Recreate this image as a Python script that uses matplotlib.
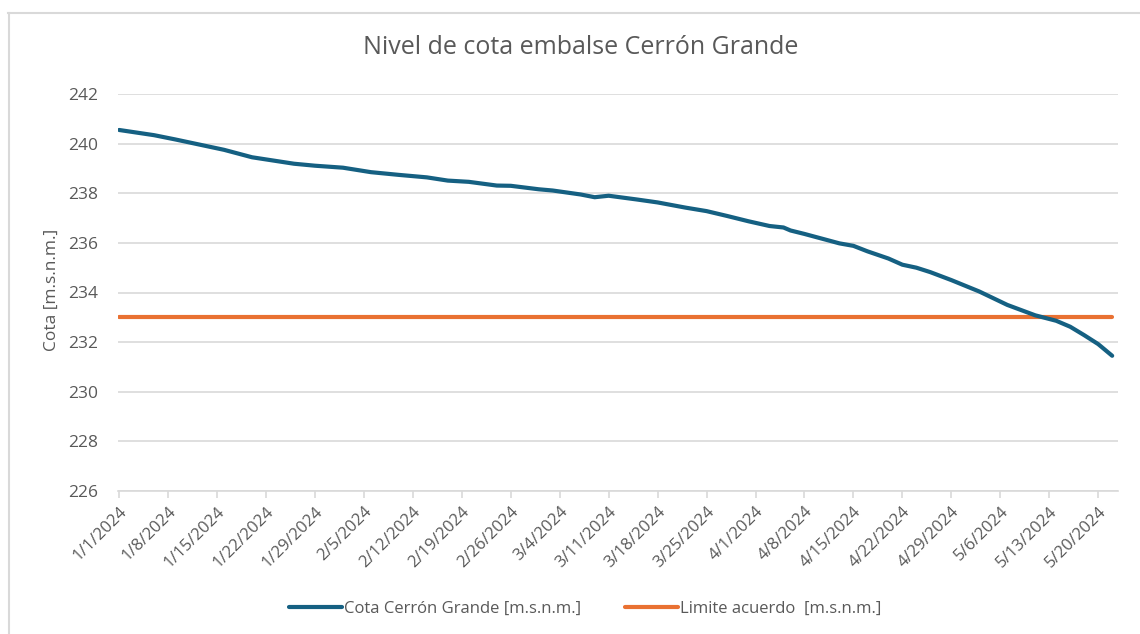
import datetime as dt
import matplotlib
matplotlib.use("Agg")
import matplotlib.pyplot as plt
import matplotlib.dates as mdates
from matplotlib.lines import Line2D
from matplotlib.ticker import FuncFormatter

# nivel del embalse (m.s.n.m.)
fechas = ["2024-01-01", "2024-01-06", "2024-01-09", "2024-01-14", "2024-01-16",
          "2024-01-20", "2024-01-26", "2024-01-29", "2024-02-02", "2024-02-06",
          "2024-02-10", "2024-02-14", "2024-02-17", "2024-02-20", "2024-02-24",
          "2024-02-26", "2024-03-01", "2024-03-03", "2024-03-07", "2024-03-09",
          "2024-03-11", "2024-03-15", "2024-03-18", "2024-03-22", "2024-03-25",
          "2024-03-28", "2024-03-31", "2024-04-03", "2024-04-05", "2024-04-06",
          "2024-04-08", "2024-04-13", "2024-04-15", "2024-04-17", "2024-04-20",
          "2024-04-22", "2024-04-24", "2024-04-26", "2024-04-29", "2024-05-03",
          "2024-05-07", "2024-05-11", "2024-05-14", "2024-05-16", "2024-05-18",
          "2024-05-20", "2024-05-22"]
cota = [240.55, 240.34, 240.17, 239.87, 239.75,
        239.45, 239.19, 239.11, 239.03, 238.85,
        238.74, 238.64, 238.51, 238.46, 238.31,
        238.30, 238.16, 238.11, 237.95, 237.84,
        237.90, 237.75, 237.63, 237.42, 237.28,
        237.08, 236.87, 236.68, 236.62, 236.50,
        236.36, 235.98, 235.88, 235.66, 235.37,
        235.12, 235.00, 234.82, 234.50, 234.04,
        233.50, 233.08, 232.86, 232.62, 232.28,
        231.92, 231.45]
limite = 233.0

y_ticks = [226, 228, 230, 232, 234, 236, 238, 240, 242]

serie_label = "Cota Cerrón Grande [m.s.n.m.]"
limite_label = "Limite acuerdo  [m.s.n.m.]"
titulo = "Nivel de cota embalse Cerrón Grande"

AZUL = "#156082"
NARANJA = "#E97132"
GRIS = "#595959"
GRID = "#d9d9d9"

plt.rcParams['font.family'] = ['Open Sans', 'DejaVu Sans']

x = [dt.datetime.strptime(f, "%Y-%m-%d") for f in fechas]

fig = plt.figure(figsize=(11.4, 6.34), dpi=100)
W, H = 1140, 634
ax = fig.add_axes([118 / W, 1 - 491 / H, 1000 / W, 397 / H])

ax.plot(x, cota, color=AZUL, lw=3, solid_capstyle="round", solid_joinstyle="round", zorder=3)
ax.plot([x[0], x[-1]], [limite, limite], color=NARANJA, lw=3, solid_capstyle="round", zorder=2)

ax.set_ylim(226, 242)
ax.set_yticks(y_ticks)
ax.set_xlim(x[0] - dt.timedelta(hours=4), x[-1] + dt.timedelta(hours=20))

# ticks semanales
ax.xaxis.set_major_locator(mdates.DayLocator(bymonthday=None, interval=7))
ax.set_xticks([x[0] + dt.timedelta(days=7 * i) for i in range(21)])
ax.xaxis.set_major_formatter(FuncFormatter(
    lambda v, p: "{d.month}/{d.day}/{d.year}".format(d=mdates.num2date(v))))

for lab in ax.get_xticklabels():
    lab.set_rotation(45)
    lab.set_ha("right")
    lab.set_rotation_mode("anchor")

ax.grid(axis="y", color=GRID, lw=1.2)
ax.set_axisbelow(True)
for s in ["left", "right", "top"]:
    ax.spines[s].set_visible(False)
ax.spines["bottom"].set_color(GRID)
ax.spines["bottom"].set_linewidth(1.2)
ax.tick_params(axis="y", length=0, pad=14, labelsize=12.5, labelcolor=GRIS)
ax.tick_params(axis="x", length=5, width=1.2, color=GRID, pad=4, labelsize=12, labelcolor=GRIS)

fig.text(52 / W, 1 - 290 / H, "Cota [m.s.n.m.]", rotation=90, ha="center", va="center",
         fontsize=12.5, color=GRIS)
fig.text(581 / W, 1 - 48 / H, titulo, ha="center", va="center", fontsize=18, color=GRIS)

handles = [Line2D([], [], color=AZUL, lw=3, solid_capstyle="round"),
           Line2D([], [], color=NARANJA, lw=3, solid_capstyle="round")]
fig.legend(handles, [serie_label, limite_label], loc="center", ncol=2,
           bbox_to_anchor=(585 / W, 1 - 609 / H), frameon=False, fontsize=12,
           labelcolor=GRIS, handlelength=3.2, handletextpad=0.1, columnspacing=2.6)

# marco del area del grafico
fig.add_artist(Line2D([8.5 / W, 8.5 / W], [0, 1 - 13 / H], color=GRID, lw=1.5))
fig.add_artist(Line2D([8 / W, 1], [1 - 13 / H, 1 - 13 / H], color=GRID, lw=1.5))

fig.savefig("out.png", dpi=100, facecolor="white")
